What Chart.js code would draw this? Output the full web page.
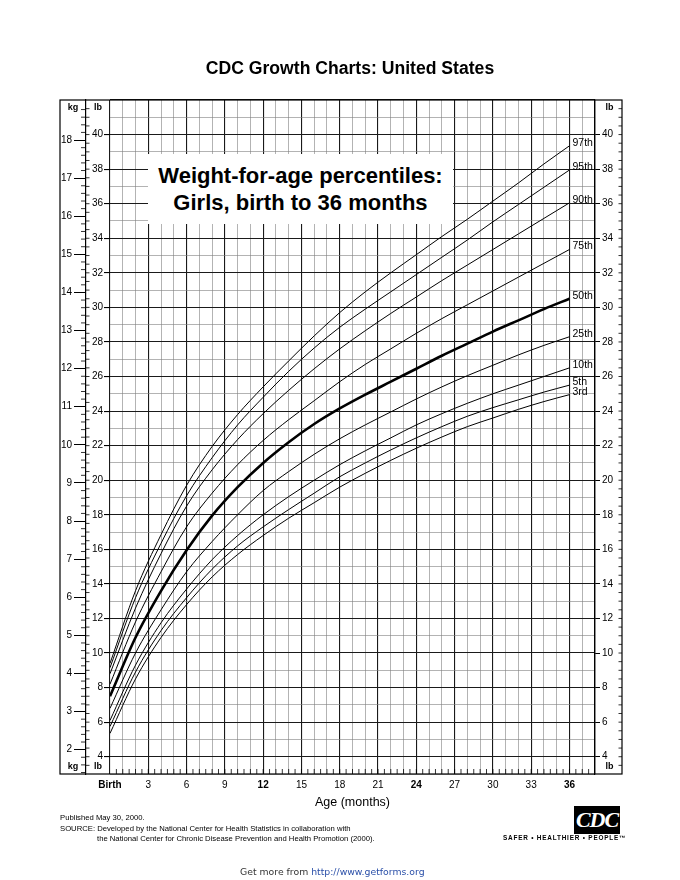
<!DOCTYPE html>
<html>
<head>
<meta charset="utf-8">
<script src="https://cdn.jsdelivr.net/npm/chart.js@4.4.1/dist/chart.umd.min.js"></script>
<style>
  body { margin: 0; background: #fff; font-family: 'Liberation Sans', Arial, sans-serif; }
  #page { position: relative; width: 680px; height: 880px; overflow: hidden; }
  #c { position: absolute; left: 0; top: 0; }
  .txt { position: absolute; white-space: nowrap; color: #000; }
  #head { left: 0; width: 700px; top: 58px; text-align: center; font-weight: bold; font-size: 17.6px; }
  #box { left: 148px; top: 154px; width: 305px; height: 70px; background: #fff;
         display: flex; align-items: center; justify-content: center; text-align: center;
         font-weight: bold; font-size: 22px; line-height: 27px; }
  .foot { font-size: 7.7px; }
  #logo { left: 574px; top: 806px; width: 46px; height: 28px; background: #000; color: #fff;
          font: italic bold 22px 'Liberation Serif', serif; text-align: center; line-height: 28px; letter-spacing: -1px; }
  #safer { left: 503px; top: 834px; font-size: 6.4px; font-weight: bold; letter-spacing: 0.8px; }
  #more { left: 240px; top: 866px; font-size: 9.3px; color: #333; font-family: 'DejaVu Sans', sans-serif; }
  #more span { color: #2a4fa8; }
</style>
</head>
<body>
<div id="page">
  <canvas id="c" width="680" height="880"></canvas>
  <div class="txt" id="head">CDC Growth Charts: United States</div>
  <div class="txt" id="box"><div>Weight-for-age percentiles:<br>Girls, birth to 36 months</div></div>
  <div class="txt foot" style="left:60px; top:813px;">Published May 30, 2000.</div>
  <div class="txt foot" style="left:60px; top:824px;">SOURCE: Developed by the National Center for Health Statistics in collaboration with</div>
  <div class="txt foot" style="left:97px; top:834px;">the National Center for Chronic Disease Prevention and Health Promotion (2000).</div>
  <div class="txt" id="logo">CDC</div>
  <div class="txt" id="safer">SAFER • HEALTHIER • PEOPLE™</div>
  <div class="txt" id="more">Get more from <span>http://www.getforms.org</span></div>
</div>
<script>
// age in months (every 2 months)
const months = [0, 2, 4, 6, 8, 10, 12, 14, 16, 18, 20, 22, 24, 26, 28, 30, 32, 34, 36];

// weight in lb
const p97 = [9.4, 13.6, 16.85, 19.7, 21.95, 23.8, 25.4, 26.9, 28.35, 29.7, 30.9, 32.0, 33.05, 34.1, 35.1, 36.15, 37.2, 38.3, 39.35];
const p95 = [9.15, 13.2, 16.35, 19.1, 21.3, 23.2, 24.8, 26.3, 27.65, 28.85, 29.9, 30.9, 31.9, 32.9, 33.9, 34.95, 35.95, 36.95, 37.95];
const p90 = [8.8, 12.6, 15.75, 18.5, 20.6, 22.35, 23.85, 25.2, 26.45, 27.6, 28.65, 29.65, 30.6, 31.55, 32.45, 33.35, 34.25, 35.15, 36.05];
const p75 = [8.2, 11.8, 14.7, 17.3, 19.25, 20.9, 22.3, 23.5, 24.6, 25.7, 26.7, 27.6, 28.5, 29.35, 30.15, 30.95, 31.75, 32.55, 33.35];
const p50 = [7.5, 10.9, 13.6, 15.95, 17.95, 19.6, 21.0, 22.2, 23.25, 24.15, 24.95, 25.7, 26.45, 27.2, 27.9, 28.6, 29.25, 29.9, 30.5];
const p25 = [6.8, 10.0, 12.5, 14.7, 16.45, 18.0, 19.4, 20.5, 21.5, 22.4, 23.2, 23.95, 24.7, 25.4, 26.05, 26.65, 27.25, 27.8, 28.3];
const p10 = [6.1, 9.3, 11.75, 13.7, 15.4, 16.8, 18.0, 19.05, 20.0, 20.9, 21.7, 22.45, 23.2, 23.85, 24.45, 25.0, 25.5, 26.0, 26.5];
const p5  = [5.75, 8.9, 11.3, 13.2, 14.85, 16.2, 17.3, 18.3, 19.25, 20.2, 21.0, 21.75, 22.45, 23.1, 23.7, 24.2, 24.65, 25.1, 25.5];
const p3  = [5.35, 8.5, 10.9, 12.8, 14.4, 15.7, 16.8, 17.8, 18.7, 19.6, 20.4, 21.15, 21.85, 22.5, 23.1, 23.6, 24.1, 24.55, 24.95];

const seriesNames = ['97th', '95th', '90th', '75th', '50th', '25th', '10th', '5th', '3rd'];
const seriesData = [p97, p95, p90, p75, p50, p25, p10, p5, p3];

const xTickMonths = [0, 3, 6, 9, 12, 15, 18, 21, 24, 27, 30, 33, 36];
const boldMonths = [0, 12, 24, 36];
const lbLabels = [4, 6, 8, 10, 12, 14, 16, 18, 20, 22, 24, 26, 28, 30, 32, 34, 36, 38, 40];
const kgLabels = [2, 3, 4, 5, 6, 7, 8, 9, 10, 11, 12, 13, 14, 15, 16, 17, 18];

const LB_MIN = 3, LB_MAX = 42, KG = 2.20462;
const FONT = "'Liberation Sans', Arial, sans-serif";
Chart.defaults.font.family = FONT;
Chart.defaults.color = '#000';

const datasets = seriesData.map((arr, i) => ({
    label: seriesNames[i],
    data: arr.map((v, j) => ({ x: months[j], y: v })),
    borderColor: '#000',
    borderWidth: seriesNames[i] === '50th' ? 2.6 : 1,
    pointRadius: 0,
    fill: false,
    cubicInterpolationMode: 'monotone'
}));

const thin = '#808080', thick = '#1a1a1a';

// frame, small ticks, kg/lb headers, percentile labels
const decor = {
    id: 'decor',
    afterDraw(chart) {
        const { ctx, chartArea: a, scales } = chart;
        const kg = scales.yKg, lb = scales.y, lbR = scales.yR, x = scales.x;
        ctx.save();
        ctx.strokeStyle = '#000';
        ctx.lineWidth = 1.2;
        ctx.strokeRect(kg.left, a.top, lbR.right - kg.left, a.bottom - a.top);

        ctx.lineWidth = 0.8;
        ctx.beginPath();
        for (let k = 7; k < 95; k++) {
            if (k % 5 === 0) continue;
            const y = kg.getPixelForValue(k / 5);
            ctx.moveTo(kg.right - 5, y); ctx.lineTo(kg.right, y);
        }
        for (let k = 7; k < 84; k++) {
            const y = lb.getPixelForValue(k / 2);
            ctx.moveTo(lb.left, y); ctx.lineTo(lb.left + 3.5, y);
            ctx.moveTo(lbR.right - 3.5, y); ctx.lineTo(lbR.right, y);
        }
        for (let k = 1; k < 76; k++) {
            const px = x.getPixelForValue(k / 2);
            ctx.moveTo(px, a.bottom - 5); ctx.lineTo(px, a.bottom);
        }
        ctx.stroke();

        ctx.fillStyle = '#000';
        ctx.font = 'bold 9px ' + FONT;
        ctx.textAlign = 'center';
        ctx.textBaseline = 'middle';
        [a.top + 8, a.bottom - 7].forEach(y => {
            ctx.fillText('kg', (kg.left + kg.right) / 2, y);
            ctx.fillText('lb', (lb.left + lb.right) / 2, y);
            ctx.fillText('lb', (lbR.left + lbR.right) / 2 + 1, y);
        });

        ctx.font = '10.5px ' + FONT;
        ctx.textAlign = 'left';
        chart.data.datasets.forEach((ds, i) => {
            const pts = chart.getDatasetMeta(i).data;
            const p = pts[pts.length - 1];
            ctx.fillText(ds.label, p.x + 3, p.y - 3);
        });
        ctx.restore();
    }
};

new Chart(document.getElementById('c'), {
    type: 'line',
    data: { datasets },
    plugins: [decor],
    options: {
        responsive: false,
        maintainAspectRatio: false,
        devicePixelRatio: 1,
        animation: false,
        layout: { padding: { left: 60, right: 58, top: 100, bottom: 70 } },
        plugins: { legend: { display: false }, tooltip: { enabled: false } },
        scales: {
            x: {
                type: 'linear', min: 0, max: 38,
                afterFit: s => { s.height = 36; },
                grid: {
                    color: c => c.tick && c.tick.value % 3 === 0 ? thick : thin,
                    lineWidth: c => c.tick && c.tick.value % 3 === 0 ? 1.1 : 0.6,
                    drawTicks: false
                },
                border: { display: false },
                ticks: {
                    stepSize: 1, autoSkip: false, maxRotation: 0, padding: 5,
                    font: c => ({ size: 10, weight: boldMonths.includes(c.tick && c.tick.value) ? 'bold' : 'normal' }),
                    callback: v => xTickMonths.includes(v) ? (v === 0 ? 'Birth' : String(v)) : ''
                },
                title: { display: true, text: 'Age (months)', font: { size: 12.5 }, padding: { top: 0, bottom: 0 } }
            },
            y: {
                type: 'linear', position: 'left', min: LB_MIN, max: LB_MAX, weight: 0,
                afterFit: s => { s.width = 24; },
                grid: {
                    color: c => c.tick && c.tick.value % 2 === 0 ? thick : thin,
                    lineWidth: c => c.tick && c.tick.value % 2 === 0 ? 1.1 : 0.6,
                    tickColor: c => lbLabels.includes(c.tick && c.tick.value) ? '#000' : 'rgba(0,0,0,0)',
                    tickLength: 6
                },
                border: { display: false },
                ticks: {
                    stepSize: 1, autoSkip: false, padding: 1, font: { size: 10 },
                    callback: v => lbLabels.includes(v) ? String(v) : ''
                }
            },
            yKg: {
                type: 'linear', position: 'left', min: LB_MIN / KG, max: LB_MAX / KG, weight: 1,
                afterFit: s => { s.width = 26; },
                grid: {
                    drawOnChartArea: false, tickLength: 12, tickWidth: 1,
                    tickColor: c => kgLabels.includes(c.tick && c.tick.value) ? '#000' : 'rgba(0,0,0,0)'
                },
                border: { display: true, color: '#000', width: 1.2 },
                ticks: {
                    stepSize: 1, includeBounds: false, autoSkip: false, padding: 2, font: { size: 10 },
                    callback: v => kgLabels.includes(v) ? String(v) : ''
                }
            },
            yR: {
                type: 'linear', position: 'right', min: LB_MIN, max: LB_MAX,
                afterFit: s => { s.width = 27; },
                grid: {
                    drawOnChartArea: false, tickLength: 5,
                    tickColor: c => lbLabels.includes(c.tick && c.tick.value) ? '#000' : 'rgba(0,0,0,0)'
                },
                border: { display: true, color: '#000', width: 1.2 },
                ticks: {
                    stepSize: 1, autoSkip: false, padding: 2, font: { size: 10 },
                    callback: v => lbLabels.includes(v) ? String(v) : ''
                }
            }
        }
    }
});
</script>
</body>
</html>
